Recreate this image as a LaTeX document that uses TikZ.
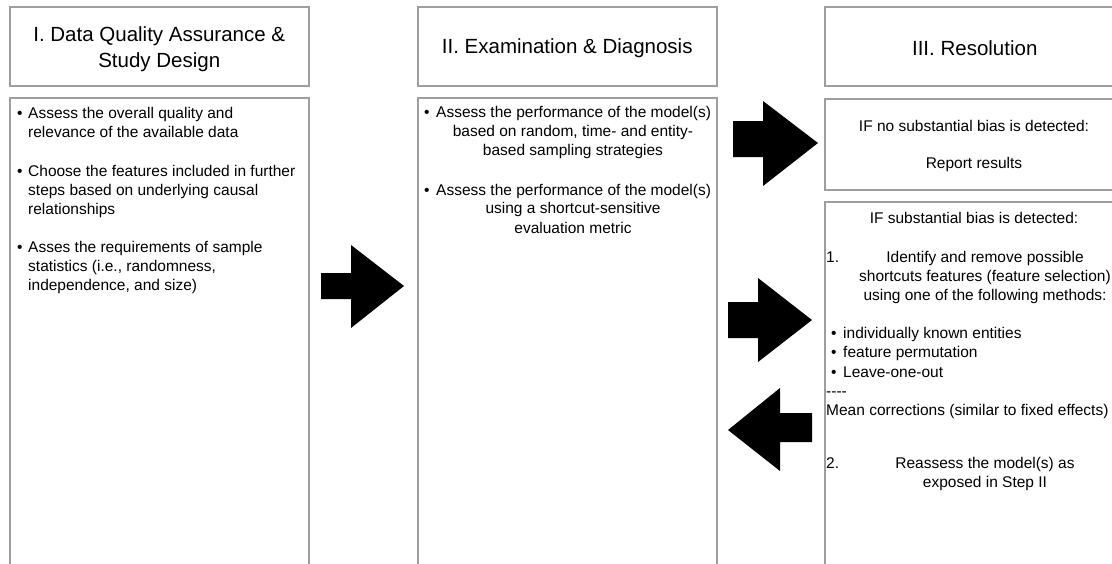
\documentclass[tikz,border=0pt]{standalone}
\usepackage{fontspec}
\setmainfont{Liberation Sans}
\definecolor{boxgray}{HTML}{9E9E9E}

\tikzset{
    frame/.style={draw=boxgray, line width=1.5pt, anchor=north west, inner sep=0pt, minimum width=299pt},
    title/.style={inner sep=0pt, align=center, font=\fontsize{20.5}{25.5}\selectfont},
    body/.style={inner sep=0pt, font=\fontsize{15.5}{19.4}\selectfont},
    blockarrow/.style={fill=black}
}

\begin{document}
\begin{tikzpicture}[x=1pt, y=-1pt]
    \useasboundingbox (0,0) rectangle (1112,563);
    \clip (0,0) rectangle (1112,563);

    % headers
    \node[frame, minimum height=79pt] (hdrI)   at (9,6)   {};
    \node[frame, minimum height=79pt] (hdrII)  at (417,6) {};
    \node[frame, minimum height=79pt, minimum width=300pt] (hdrIII) at (824,6) {};
    \node[title] (titleI)   at ([yshift=-3pt]hdrI.center)   {I. Data Quality Assurance \&\\Study Design};
    \node[title] (titleII)  at ([yshift=-2pt]hdrII.center)  {II. Examination \& Diagnosis};
    \node[title] (titleIII) at ([yshift=-2pt]hdrIII.center) {III. Resolution};

    % panels
    \node[frame, minimum height=520pt] (panelI)  at (9,97)   {};
    \node[frame, minimum height=520pt] (panelII) at (417,97) {};
    \node[frame, minimum width=300pt, minimum height=91pt]  (nobias) at (824,98)  {};
    \node[frame, minimum width=300pt, minimum height=420pt] (bias)   at (824,201) {};

    % step I (base = last line)
    \node[body, anchor=base west] (dotIa) at (17,118)   {\textbullet};
    \node[body, anchor=base west, align=left] (itemIa) at (28,137.4)
        {Assess the overall quality and\\relevance of the available data};
    \node[body, anchor=base west] (dotIb) at (17,176)   {\textbullet};
    \node[body, anchor=base west, align=left] (itemIb) at (28,214.8)
        {Choose the features included in further\\steps based on underlying causal\\relationships};
    \node[body, anchor=base west] (dotIc) at (17,252)   {\textbullet};
    \node[body, anchor=base west, align=left] (itemIc) at (28,290.8)
        {Asses the requirements of sample\\statistics (i.e., randomness,\\independence, and size)};

    % step II
    \node[body, anchor=base west] (dotIIa) at (424,117) {\textbullet};
    \node[body, anchor=base west] (itemIIa) at (436,117) {Assess the performance of the model(s)};
    \node[body, anchor=base, align=center] (restIIa) at (573,155.5)
        {based on random, time- and entity-\\based sampling strategies};
    \node[body, anchor=base west] (dotIIb) at (424,195) {\textbullet};
    \node[body, anchor=base west] (itemIIb) at (436,195) {Assess the performance of the model(s)};
    \node[body, anchor=base, align=center] (restIIb) at (573,233)
        {using a shortcut-sensitive\\evaluation metric};

    % step III
    \node[body, anchor=base] (ifno)   at (974,131) {IF no substantial bias is detected:};
    \node[body, anchor=base] (report) at (974,168) {Report results};

    \node[body, anchor=base] (ifyes) at (974,223) {IF substantial bias is detected:};
    \node[body, anchor=base west] (numA) at (826,262) {1.};
    \node[body, anchor=base, align=center] (identify) at (985,300.8)
        {Identify and remove possible\\shortcuts features (feature selection)\\using one of the following methods:};
    \node[body, anchor=base west] (dotA) at (831,338) {\textbullet};
    \node[body, anchor=base west] (methA) at (843,338) {individually known entities};
    \node[body, anchor=base west] (dotB) at (831,357.5) {\textbullet};
    \node[body, anchor=base west] (methB) at (843,357.5) {feature permutation};
    \node[body, anchor=base west] (dotC) at (831,377) {\textbullet};
    \node[body, anchor=base west] (methC) at (843,377) {Leave-one-out};
    \node[body, anchor=base west] (sep)   at (826,396) {-{}-{}-{}-};
    \node[body, anchor=base west] (mean)  at (826,415) {Mean corrections (similar to fixed effects)};
    \node[body, anchor=base west] (numB)  at (826,468) {2.};
    \node[body, anchor=base, align=center] (reassess) at (985,487.4)
        {Reassess the model(s) as\\exposed in Step II};

    % block arrows
    \fill[blockarrow] (321,273) -- (351,273) -- (351,245) -- (404,286)
        -- (351,328) -- (351,299) -- (321,299) -- cycle;
    \fill[blockarrow] (733,121) -- (763,121) -- (763,101) -- (818,143)
        -- (763,186) -- (763,157) -- (733,157) -- cycle;
    \fill[blockarrow] (728,302) -- (758,302) -- (758,278) -- (812,320)
        -- (758,362) -- (758,338) -- (728,338) -- cycle;
    \fill[blockarrow] (812,413) -- (780,413) -- (780,388) -- (728,430)
        -- (780,471) -- (780,442) -- (812,442) -- cycle;
\end{tikzpicture}
\end{document}
